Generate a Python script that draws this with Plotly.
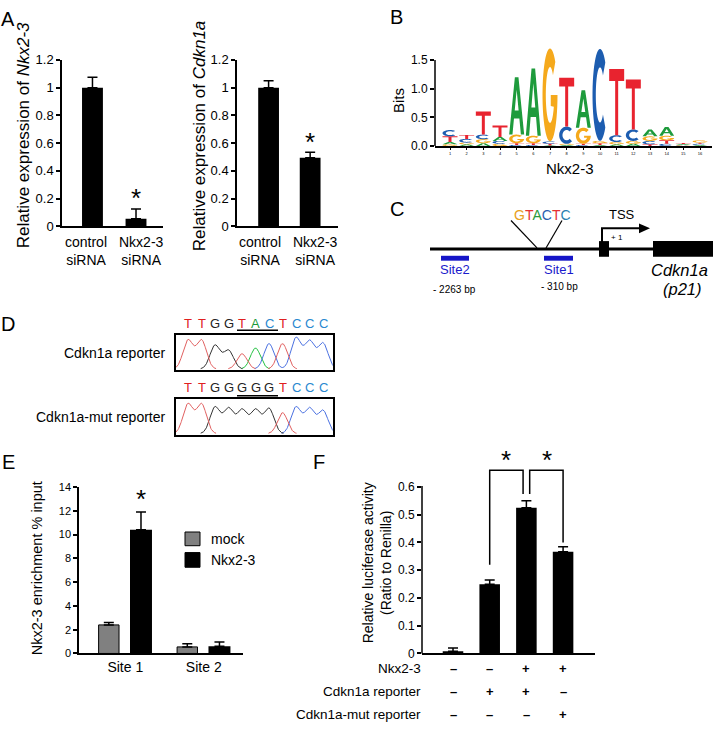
import numpy as np
import plotly.graph_objects as go

W, H = 713, 731
FONT = "Liberation Sans, Arial, Helvetica, sans-serif"

# ---- data ----
a_cats = ["control<br>siRNA", "Nkx2-3<br>siRNA"]
a_nkx = [1.0, 0.055]
a_nkx_err = [0.075, 0.07]
a_cdk = [1.0, 0.495]
a_cdk_err = [0.05, 0.04]

logo_pos = list(range(1, 17))
bits_A = [0.04, 0.03, 0.05, 0.07, 1.00, 1.17, 0.01, 0.02, 0.65, 0.02, 0.03, 0.04, 0.12, 0.15, 0.015, 0.02]
bits_C = [0.11, 0.065, 0.08, 0.05, 0.02, 0.02, 0.04, 0.30, 0.02, 1.60, 0.12, 0.20, 0.06, 0.04, 0.01, 0.02]
bits_G = [0.03, 0.03, 0.07, 0.04, 0.15, 0.13, 1.62, 0.02, 0.28, 0.04, 0.04, 0.05, 0.08, 0.08, 0.01, 0.04]
bits_T = [0.10, 0.07, 0.40, 0.20, 0.03, 0.03, 0.03, 0.85, 0.02, 0.03, 1.15, 0.87, 0.03, 0.06, 0.02, 0.02]

seq_wt = list("TTGGTACTCCC")
peak_wt = [0.85, 0.85, 0.70, 0.55, 0.45, 0.62, 0.75, 0.75, 0.92, 0.82, 0.76]
seq_mut = list("TTGGGGGTCCC")
peak_mut = [0.85, 0.85, 0.76, 0.72, 0.68, 0.68, 0.72, 0.60, 0.76, 0.72, 0.66]

e_sites = ["Site 1", "Site 2"]
e_mock = [2.4, 0.55]
e_mock_err = [0.2, 0.27]
e_nkx = [10.4, 0.6]
e_nkx_err = [1.5, 0.37]

f_vals = [0.008, 0.249, 0.525, 0.367]
f_err = [0.012, 0.016, 0.025, 0.018]
f_rows = ["Nkx2-3", "Cdkn1a reporter", "Cdkn1a-mut reporter"]
f_table = [["–", "–", "+", "+"], ["–", "+", "+", "–"], ["–", "–", "–", "+"]]
f_brackets = [(1, 1.91, 0.32, 0.575), (2.09, 3, 0.575, 0.40)]

LOGO_COL = {"A": "#1e9b3c", "C": "#1d5db0", "G": "#f5a91c", "T": "#e8232f"}
TXT_COL = {"T": "#e0201f", "G": "#222222", "A": "#1a9a3a", "C": "#2a88d0"}
TRACE_COL = {"T": "#e06060", "G": "#333333", "A": "#22c040", "C": "#4a70e0"}


def px(x):
    return x / W


def py(y):
    return 1 - y / H


def dom_x(a, b):
    return [a / W, b / W]


def dom_y(top, bottom):
    return [1 - bottom / H, 1 - top / H]


annotations = []
shapes = []


def ann(text, x, y, size=13, color="black", xanchor="center", yanchor="middle",
        angle=0, xref="paper", yref="paper", italic=False):
    if xref == "paper":
        x = px(x)
    if yref == "paper":
        y = py(y)
    if italic:
        text = "<i>" + text + "</i>"
    annotations.append(dict(text=text, x=x, y=y, xref=xref, yref=yref, showarrow=False,
                            xanchor=xanchor, yanchor=yanchor, textangle=angle,
                            font=dict(family=FONT, size=size, color=color)))


def pline(x0, y0, x1, y1, w=1.5, color="black"):
    shapes.append(dict(type="line", xref="paper", yref="paper", x0=px(x0), y0=py(y0),
                       x1=px(x1), y1=py(y1), line=dict(color=color, width=w)))


def prect(x0, y0, x1, y1, color="black", lw=0, lc="black"):
    shapes.append(dict(type="rect", xref="paper", yref="paper", x0=px(x0), y0=py(y0),
                       x1=px(x1), y1=py(y1), fillcolor=color, line=dict(width=lw, color=lc)))


fig = go.Figure()

axis_base = dict(showline=True, linecolor="black", linewidth=1.5, showgrid=False, zeroline=False,
                 ticks="outside", ticklen=4, tickwidth=1.5, tickcolor="black",
                 tickfont=dict(family=FONT, size=12, color="black"))
err_style = dict(type="data", symmetric=False, color="black", thickness=1.5, width=5)

# ---- panel A ----
fig.add_trace(go.Bar(x=[0, 1], y=a_nkx, width=0.48, marker=dict(color="black", line=dict(width=0)),
                     error_y=dict(array=a_nkx_err, arrayminus=[0, 0], **err_style),
                     xaxis="x", yaxis="y"))
fig.add_trace(go.Bar(x=[0, 1], y=a_cdk, width=0.5, marker=dict(color="black", line=dict(width=0)),
                     error_y=dict(array=a_cdk_err, arrayminus=[0, 0], **err_style),
                     xaxis="x2", yaxis="y2"))
ann("*", 1, 195, size=26, xref="x")
ann("*", 1, 138, size=26, xref="x2")
ann("Relative expression of <i>Nkx2-3</i>", 23, 131, size=17, angle=-90)
ann("Relative expression of <i>Cdkn1a</i>", 199, 132, size=17, angle=-90)
for cx, lab in zip([86, 141], a_cats):
    ann(lab, cx, 249, size=14)
for cx, lab in zip([260, 315], a_cats):
    ann(lab, cx, 249, size=14)

# ---- panel B logo ----
def glyph(ch, x0, x1, y0, y1):
    def mp(pts):
        return ["%.4f,%.4f" % (x0 + (x1 - x0) * u, y0 + (y1 - y0) * v) for u, v in pts]

    if ch == "A":
        outer = [(0, 0), (0.38, 1), (0.62, 1), (1, 0), (0.78, 0), (0.68, 0.28), (0.32, 0.28), (0.22, 0)]
        hole = [(0.37, 0.42), (0.63, 0.42), (0.5, 0.78)]
        return "M" + " L".join(mp(outer)) + " Z M" + " L".join(mp(hole)) + " Z"
    if ch == "T":
        pts = [(0, 1), (1, 1), (1, 0.82), (0.6, 0.82), (0.6, 0), (0.4, 0), (0.4, 0.82), (0, 0.82)]
        return "M" + " L".join(mp(pts)) + " Z"
    if ch == "C":
        a1 = np.radians(np.linspace(45, 315, 40))
        a2 = np.radians(np.linspace(315, 45, 40))
        outer = [(0.5 + 0.5 * np.cos(a), 0.5 + 0.5 * np.sin(a)) for a in a1]
        inner = [(0.5 + 0.28 * np.cos(a), 0.5 + 0.3 * np.sin(a)) for a in a2]
        return "M" + " L".join(mp(outer + inner)) + " Z"
    a1 = np.radians(np.linspace(45, 360, 44))
    a2 = np.radians(np.linspace(335, 45, 40))
    outer = [(0.5 + 0.5 * np.cos(a), 0.5 + 0.5 * np.sin(a)) for a in a1]
    bar = [(0.55, 0.5), (0.55, 0.38)]
    inner = [(0.5 + 0.28 * np.cos(a), 0.5 + 0.3 * np.sin(a)) for a in a2]
    return "M" + " L".join(mp(outer + bar + inner)) + " Z"


bits = {"A": bits_A, "C": bits_C, "G": bits_G, "T": bits_T}
for i, p in enumerate(logo_pos):
    stack = sorted("ACGT", key=lambda c: bits[c][i])
    base = 0.0
    for c in stack:
        h = bits[c][i]
        shapes.append(dict(type="path", xref="x3", yref="y3", path=glyph(c, p - 0.45, p + 0.45, base, base + h),
                           fillcolor=LOGO_COL[c], line=dict(width=0)))
        base += h
fig.add_trace(go.Scatter(x=logo_pos, y=[0] * 16, mode="markers", marker=dict(size=0, opacity=0),
                         hoverinfo="skip", xaxis="x3", yaxis="y3"))
pline(435, 54, 435, 142, w=1.5)
ann("Bits", 398, 96, size=15, angle=-90)
ann("Nkx2-3", 570, 165, size=15)

# ---- panel C gene diagram ----
pline(430, 247, 712, 247, w=3)
prect(441, 254, 469, 259, color="#1515c8")
prect(544, 254, 573, 259, color="#1515c8")
prect(599, 239, 609, 255)
prect(653, 239, 713, 255)
pline(602, 240, 602, 226, w=2)
pline(601, 226, 640, 226, w=2)
shapes.append(dict(type="path", xref="paper", yref="paper",
                   path="M %f,%f L %f,%f L %f,%f Z" % (px(639), py(221), px(650), py(226), px(639), py(231)),
                   fillcolor="black", line=dict(width=0)))
pline(511, 218, 537, 246, w=1.2)
pline(562, 218, 546, 246, w=1.2)
gt = "".join('<span style="color:%s">%s</span>' % (c, ch) for ch, c in
             zip("GTACTC", ["#e8a020", "#e53030", "#2a9a40", "#2a60b0", "#e53030", "#2a80b0"]))
ann(gt, 542, 212, size=14)
ann("TSS", 622, 212, size=13)
ann("+ 1", 617, 235, size=8)
ann("Site2", 455, 268, size=13, color="#1a1acc")
ann("Site1", 559, 268, size=13, color="#1a1acc")
ann("- 2263 bp", 455, 288, size=10)
ann("- 310 bp", 559, 285, size=10)
ann("Cdkn1a", 710, 268, size=16.5, italic=True, xanchor="right")
ann("(p21)", 704, 288, size=16.5, italic=True, xanchor="right")

# ---- panel D chromatograms ----
xs = np.linspace(-0.9, 10.75, 400)
for seq, peaks, xa, ya, ty, ul in [(seq_wt, peak_wt, "x7", "y7", 323, 330),
                                   (seq_mut, peak_mut, "x8", "y8", 388, 397)]:
    for base_ch in "ACGT":
        idx = [i for i, s in enumerate(seq) if s == base_ch]
        if not idx:
            continue
        ys = sum(peaks[i] * np.exp(-0.5 * ((xs - i) / 0.37) ** 2) for i in idx)
        ys = np.where(ys > 0.01, ys, np.nan)
        fig.add_trace(go.Scatter(x=xs, y=ys, mode="lines", line=dict(color=TRACE_COL[base_ch], width=1),
                                 hoverinfo="skip", connectgaps=False, xaxis=xa, yaxis=ya))
    for i, s in enumerate(seq):
        ann(s, i, ty, size=13, color=TXT_COL[s], xref=xa)
    pline(237, ul, 278, ul, w=1.5)
ann("Cdkn1a reporter", 168, 353, size=14, xanchor="right")
ann("Cdkn1a-mut reporter", 168, 419, size=14, xanchor="right")

# ---- panel E ----
fig.add_trace(go.Bar(x=[0, 1], y=e_mock, width=0.26, offset=-0.34,
                     marker=dict(color="#808080", line=dict(width=1, color="black")),
                     error_y=dict(array=e_mock_err, arrayminus=[0, 0], **err_style),
                     xaxis="x4", yaxis="y4"))
fig.add_trace(go.Bar(x=[0, 1], y=e_nkx, width=0.28, offset=0.06,
                     marker=dict(color="black", line=dict(width=0)),
                     error_y=dict(array=e_nkx_err, arrayminus=[0, 0], **err_style),
                     xaxis="x4", yaxis="y4"))
ann("*", 0.2, 502, size=26, xref="x4")
prect(185, 536, 200, 550, color="#808080", lw=1)
prect(185, 557, 200, 572, color="black", lw=1)
ann("mock", 209, 543, size=14, xanchor="left")
ann("Nkx2-3", 209, 565, size=14, xanchor="left")
ann("Nkx2-3 enrichment % input", 37, 573, size=14.5, angle=-90)

# ---- panel F ----
fig.add_trace(go.Bar(x=[0, 1, 2, 3], y=f_vals, width=0.56, marker=dict(color="black", line=dict(width=0)),
                     error_y=dict(array=f_err, arrayminus=[0] * 4, **err_style),
                     xaxis="x5", yaxis="y5"))
pline(422, 489, 422, 660, w=1.5)
for x0, x1, ya, yb in f_brackets:
    shapes.append(dict(type="path", xref="x5", yref="y5",
                       path="M %f,%f L %f,%f L %f,%f L %f,%f" % (x0, ya, x0, 0.66, x1, 0.66, x1, yb),
                       line=dict(color="black", width=1.5)))
ann("*", 1.45, 463, size=26, xref="x5")
ann("*", 2.55, 463, size=26, xref="x5")
for r, (lab, row) in enumerate(zip(f_rows, f_table)):
    yy = 675 + r * 23.5
    ann(lab, 423, yy, size=13.5, xanchor="right")
    for j, s in enumerate(row):
        ann("<b>%s</b>" % s, j, yy, size=13, xref="x5")
ann("Relative luciferase activity<br>(Ratio to Renilla)", 377, 568, size=14, angle=-90)

# panel letters
for t, x, y in [("A", 8, 12), ("B", 396, 10), ("C", 397, 206), ("D", 8, 324), ("E", 8, 465), ("F", 319, 465)]:
    ann(t, x, y, size=20)

cat_axis = dict(axis_base, ticks="", showticklabels=False)
fig.update_layout(
    width=W, height=H, margin=dict(l=0, r=0, t=0, b=0),
    paper_bgcolor="white", plot_bgcolor="rgba(0,0,0,0)", showlegend=False,
    font=dict(family=FONT, color="black"),
    xaxis=dict(cat_axis, domain=dom_x(62, 163), range=[-0.70, 1.62], anchor="y"),
    yaxis=dict(axis_base, domain=dom_y(54, 224), range=[0, 1.2], dtick=0.2, anchor="x",
               tickfont=dict(family=FONT, size=13)),
    xaxis2=dict(cat_axis, domain=dom_x(237, 338), range=[-0.76, 1.67], anchor="y2"),
    yaxis2=dict(axis_base, domain=dom_y(54, 224), range=[0, 1.2], dtick=0.2, anchor="x2",
                tickfont=dict(family=FONT, size=13)),
    xaxis3=dict(axis_base, domain=dom_x(435, 712), range=[0.1, 16.72], tickvals=logo_pos, ticklen=2, tickwidth=0.8,
                tickfont=dict(family=FONT, size=4), anchor="y3", linewidth=2),
    yaxis3=dict(axis_base, domain=dom_y(36.4, 142), range=[0, 1.8], tickvals=[0, 0.5, 1.0, 1.5],
                tickformat=".1f", showline=False, anchor="x3"),
    xaxis7=dict(domain=dom_x(176, 333), range=[-0.89, 10.74], showline=True, mirror=True, linecolor="black",
                linewidth=1.5, showticklabels=False, ticks="", showgrid=False, zeroline=False, anchor="y7"),
    yaxis7=dict(domain=dom_y(335, 371), range=[-0.04, 1.0], showline=True, mirror=True, linecolor="black",
                linewidth=1.5, showticklabels=False, ticks="", showgrid=False, zeroline=False, anchor="x7"),
    xaxis8=dict(domain=dom_x(176, 333), range=[-0.89, 10.74], showline=True, mirror=True, linecolor="black",
                linewidth=1.5, showticklabels=False, ticks="", showgrid=False, zeroline=False, anchor="y8"),
    yaxis8=dict(domain=dom_y(400, 437), range=[-0.04, 1.0], showline=True, mirror=True, linecolor="black",
                linewidth=1.5, showticklabels=False, ticks="", showgrid=False, zeroline=False, anchor="x8"),
    xaxis4=dict(axis_base, ticks="", domain=dom_x(79, 243), range=[-0.59, 1.5], tickvals=[0, 1],
                ticktext=e_sites, tickfont=dict(family=FONT, size=14), anchor="y4"),
    yaxis4=dict(axis_base, domain=dom_y(490, 660), range=[0, 14], dtick=2, anchor="x4",
                tickfont=dict(family=FONT, size=11)),
    xaxis5=dict(axis_base, domain=dom_x(422, 595), range=[-0.845, 3.87], showticklabels=False, ticks="", anchor="y5"),
    yaxis5=dict(axis_base, domain=dom_y(461.7, 660), range=[0, 0.7], tickvals=[0, 0.1, 0.2, 0.3, 0.4, 0.5, 0.6],
                showline=False, anchor="x5"),
    annotations=annotations, shapes=shapes,
)

# page margin off so the 713x731 figure fills the window exactly
fig.write_html("out.html", config={"displayModeBar": False},
               post_script="document.body.style.margin='0';document.body.style.overflow='hidden';")
